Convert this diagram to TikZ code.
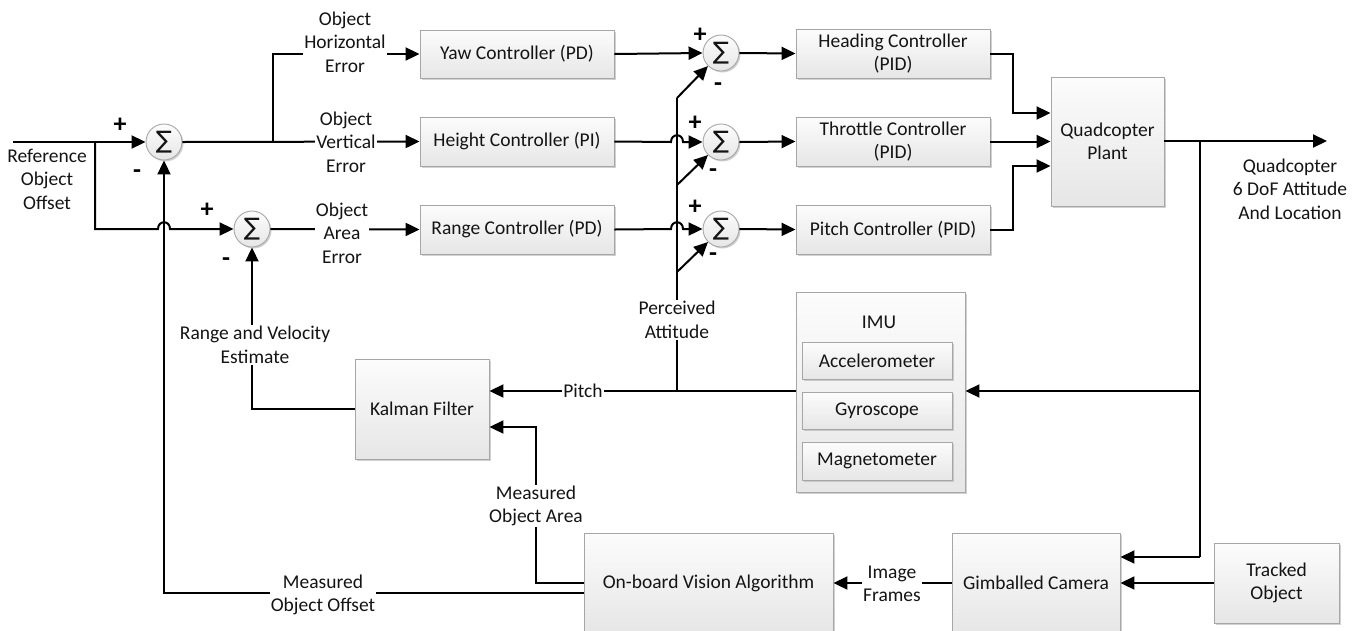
\documentclass[tikz,border=0pt]{standalone}
\usepackage{fontspec}
\setmainfont{Carlito}
\newfontfamily\sigmafont{DejaVu Sans}
\usetikzlibrary{arrows.meta,shadows}
\definecolor{boxline}{HTML}{A6A6A6}
\definecolor{boxtop}{HTML}{FCFCFC}
\definecolor{boxbot}{HTML}{E6E6E6}
\definecolor{txt}{HTML}{141414}
\begin{document}
\begin{tikzpicture}[x=1pt,y=-1pt,
  every node/.style={font=\fontsize{19.5}{23.5}\selectfont, text=txt},
  blk/.style={draw=boxline, line width=0.9pt, top color=boxtop, bottom color=boxbot,
    drop shadow={shadow xshift=2pt, shadow yshift=-2pt, fill=black!30, opacity=0.6},
    align=center, inner sep=0pt},
  sumnode/.style={circle, draw=boxline, line width=0.9pt, top color=boxtop, bottom color=boxbot,
    drop shadow={shadow xshift=1.5pt, shadow yshift=-1.5pt, fill=black!30, opacity=0.6},
    minimum size=36pt, inner sep=0pt, font=\sigmafont\fontsize{24}{24}\selectfont},
  lbl/.style={fill=white, align=center, inner sep=1pt},
  sgn/.style={font=\fontsize{26}{26}\selectfont\bfseries, text=black, inner sep=0pt},
  wire/.style={line width=2pt, black},
  arr/.style={wire, -{Triangle[length=14pt,width=13pt]}}
]
\useasboundingbox (0,0) rectangle (1364,630);

% summing junctions
\node[sumnode] (sA) at (164,142) {∑};
\node[sumnode] (sB) at (252,229) {∑};
\node[sumnode] (sH) at (721,53) {∑};
\node[sumnode] (sT) at (721,142) {∑};
\node[sumnode] (sP) at (721,229) {∑};

% controller blocks
\node[blk, minimum width=194pt, minimum height=48pt] (yaw) at (517,54) {Yaw Controller (PD)};
\node[blk, minimum width=194pt, minimum height=49pt] (hgt) at (517,141.5) {Height Controller (PI)};
\node[blk, minimum width=194pt, minimum height=49pt] (rng) at (517,229.5) {Range Controller (PD)};
\node[blk, minimum width=194pt, minimum height=49pt] (hdg) at (893,53.5) {Heading Controller\\(PID)};
\node[blk, minimum width=194pt, minimum height=49pt] (thr) at (893,141.5) {Throttle Controller\\(PID)};
\node[blk, minimum width=194pt, minimum height=49pt] (ptc) at (893,229.5) {Pitch Controller (PID)};
\node[blk, minimum width=113pt, minimum height=129pt] (plant) at (1107.5,141.5) {Quadcopter\\Plant};

% lower blocks
\node[blk, minimum width=134pt, minimum height=100pt] (kal) at (422,409) {Kalman Filter};
\node[blk, minimum width=169pt, minimum height=200pt] (imu) at (880.5,392) {};
\node (imut) at (879,322) {IMU};
\node[blk, minimum width=150pt, minimum height=37pt] (acc) at (877,360.5) {Accelerometer};
\node[blk, minimum width=150pt, minimum height=37pt] (gyr) at (877,410.5) {Gyroscope};
\node[blk, minimum width=150pt, minimum height=38pt] (mag) at (877,461) {Magnetometer};
\node[blk, minimum width=249pt, minimum height=100pt] (vis) at (708.5,583) {On-board Vision Algorithm};
\node[blk, minimum width=168pt, minimum height=100pt] (cam) at (1036,583) {Gimballed Camera};
\node[blk, minimum width=125pt, minimum height=80pt] (trk) at (1276.5,583) {Tracked\\Object};

% free coordinates
\coordinate (refin) at (13,142);
\coordinate (split) at (95,142);
\coordinate (ebr) at (273,142);
\coordinate (pa) at (677,391);
\coordinate (outend) at (1327,141);
\coordinate (obr) at (1200,141);

% reference path
\draw[arr] (refin) -- (sA.west);
\draw[arr] (split) -- (95,229) -- (158,229) .. controls (158,220) and (170,220) .. (170,229) -- (sB.west);

% first-stage errors
\draw[arr] (sA.east) -- (hgt.west);
\draw[arr] (ebr) |- (yaw.west);
\draw[arr] (sB.east) -- (rng.west);

% controllers to second-stage sums
\draw[arr] (yaw.east) -- (sH.west);
\draw[arr] (hgt.east) -- (671,142) .. controls (671,133) and (683,133) .. (683,142) -- (sT.west);
\draw[arr] (rng.east) -- (671,229) .. controls (671,220) and (683,220) .. (683,229) -- (sP.west);

% perceived attitude
\draw[wire] (pa) -- (677,98);
\draw[arr] (677,98) -- (sH.south west);
\draw[arr] (677,185) -- (sT.south west);
\draw[arr] (677,272) -- (sP.south west);

% inner loop
\draw[arr] (sH.east) -- (hdg.west);
\draw[arr] (sT.east) -- (thr.west);
\draw[arr] (sP.east) -- (ptc.west);
\draw[arr] (hdg.east) -- (1013,53.5) |- (plant.west |- 0,113);
\draw[arr] (thr.east) -- (plant.west |- thr.east);
\draw[arr] (ptc.east) -- (1013,229.5) |- (plant.west |- 0,166);
\draw[arr] (plant.east |- obr) -- (outend);
\draw[wire] (obr) -- (1200,557);
\draw[arr] (1200,391) -- (imu.east |- 0,391);
\draw[arr] (1200,557) -- (cam.east |- 0,557);

% sensing
\draw[arr] (imu.west |- pa) -- (kal.east |- pa);
\draw[arr] (kal.west) -| (sB.south);
\draw[arr] (vis.west) -- (536,583) |- (kal.east |- 0,427);
\draw[arr] (vis.west |- 0,593) -| (sA.south);
\draw[arr] (cam.west) -- (vis.east);
\draw[arr] (trk.west) -- (cam.east);

% labels
\node[lbl] (lh) at (345,42) {Object\\Horizontal\\Error};
\node[lbl] (lv) at (346,142) {Object\\Vertical\\Error};
\node[lbl] (la) at (342,233) {Object\\Area\\Error};
\node[lbl] (lp) at (677,320) {Perceived\\Attitude};
\node[lbl] (lq) at (1290,189) {Quadcopter\\6 DoF Attitude\\And Location};
\node[lbl] (lpi) at (583,391) {Pitch};
\node[lbl] (lrv) at (255,345) {Range and Velocity\\Estimate};
\node[lbl] (lma) at (536,506) {Measured\\Object Area};
\node[lbl] (lmo) at (323,595) {Measured\\Object Offset};
\node[lbl] (lif) at (892,584) {Image\\Frames};
\node[align=center] (lref) at (47,179) {Reference\\Object\\Offset};

% signs
\node[sgn] at (120,125) {+};
\node[sgn] at (137,174) {-};
\node[sgn] at (207,210) {+};
\node[sgn] at (226,262) {-};
\node[sgn] at (700,35) {+};
\node[sgn] at (718,87) {-};
\node[sgn] at (695,123) {+};
\node[sgn] at (713,173) {-};
\node[sgn] at (695,207) {+};
\node[sgn] at (713,257) {-};
\end{tikzpicture}
\end{document}
